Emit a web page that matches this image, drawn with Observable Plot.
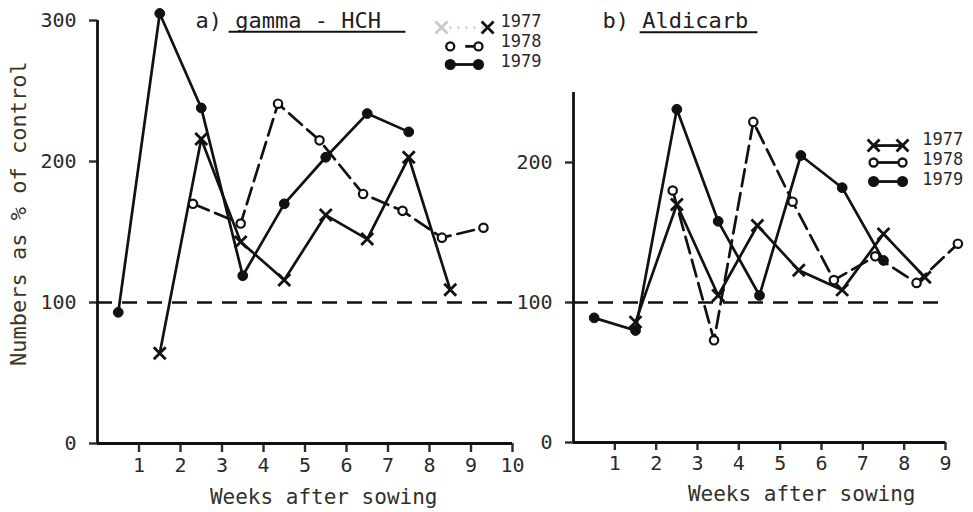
<!DOCTYPE html>
<html>
<head>
<meta charset="utf-8">
<script src="https://cdn.jsdelivr.net/npm/d3@7"></script>
<script src="https://cdn.jsdelivr.net/npm/@observablehq/plot@0.6"></script>
<style>
  body { margin: 0; background: #fff; }
  #fig { position: relative; width: 973px; height: 512px; overflow: hidden; background: #fff; }
  #fig svg { position: absolute; top: 0; }
</style>
</head>
<body>
<div id="fig"></div>
<script>
// a) gamma-HCH: numbers as % of control, by week after sowing
const hchWeeks1977 = [1.5, 2.5, 3.45, 4.5, 5.5, 6.5, 7.5, 8.5];
const hch1977      = [64, 216, 143, 116, 162, 145, 203, 109];
const hchWeeks1978 = [2.3, 3.45, 4.35, 5.35, 6.4, 7.35, 8.3, 9.3];
const hch1978      = [170, 156, 241, 215, 177, 165, 146, 153];
const hchWeeks1979 = [0.5, 1.5, 2.5, 3.5, 4.5, 5.5, 6.5, 7.5];
const hch1979      = [93, 305, 238, 119, 170, 203, 234, 221];

// b) Aldicarb
const aldWeeks1977 = [1.5, 2.5, 3.5, 4.45, 5.45, 6.5, 7.5, 8.5];
const ald1977      = [86, 170, 105, 155, 123, 109, 149, 118];
const aldWeeks1978 = [2.4, 3.4, 4.35, 5.3, 6.3, 7.3, 8.3, 9.3];
const ald1978      = [180, 73, 229, 172, 116, 133, 114, 142];
const aldWeeks1979 = [0.5, 1.5, 2.5, 3.5, 4.5, 5.5, 6.5, 7.5];
const ald1979      = [89, 80, 238, 158, 105, 205, 182, 130];

const years = ["1977", "1978", "1979"];
const controlLevel = 100;
const hchYTicks = [0, 100, 200, 300];
const aldYTicks = [0, 100, 200];
const hchXTicks = [1, 2, 3, 4, 5, 6, 7, 8, 9, 10];
const aldXTicks = [1, 2, 3, 4, 5, 6, 7, 8, 9];

const rows = (weeks, values) => weeks.map((week, i) => ({week, value: values[i]}));

const INK = "#111";
const FONT = "'DejaVu Sans Mono', monospace";

// line + marker styling per year
function seriesMarks(data, year) {
  const xy = {x: "week", y: "value"};
  const line = Plot.line(data, {...xy, stroke: INK, strokeWidth: 2.7,
    strokeDasharray: year === "1978" ? "17,7" : null});
  let dots;
  if (year === "1977") dots = Plot.dot(data, {...xy, symbol: "times", r: 5.5, stroke: INK, strokeWidth: 2.8});
  else if (year === "1978") dots = Plot.dot(data, {...xy, r: 4.2, fill: "white", stroke: INK, strokeWidth: 2.2});
  else dots = Plot.dot(data, {...xy, r: 4.9, fill: INK, stroke: INK, strokeWidth: 1});
  return [line, dots];
}

// legend row: two markers joined by a short segment, then the year
function legendMarks(year, xa, xb, ySym, xText, yText, opts = {}) {
  const seg = [{x1: xa, x2: xb, y: ySym}];
  const pts = [{x: xa, y: ySym, faint: opts.faintLeft}, {x: xb, y: ySym}];
  const marks = [
    Plot.link(seg, {x1: "x1", x2: "x2", y1: "y", y2: "y",
      stroke: opts.faintLeft ? "#d0d0d0" : INK, strokeWidth: 2.8,
      strokeDasharray: opts.dash || null})
  ];
  if (year === "1977") {
    marks.push(Plot.dot(pts, {x: "x", y: "y", symbol: "times", r: 5.5,
      stroke: d => d.faint ? "#c8c8c8" : INK, strokeWidth: 2.8}));
  } else if (year === "1978") {
    marks.push(Plot.dot(pts, {x: "x", y: "y", r: 4, fill: "white", stroke: INK, strokeWidth: 2.3}));
  } else {
    marks.push(Plot.dot(pts, {x: "x", y: "y", r: 4.8, fill: INK, stroke: INK}));
  }
  marks.push(Plot.text([year], {x: xText, y: yText, text: d => d, textAnchor: "start",
    fontSize: 17, fill: "#2a2a2a"}));
  return marks;
}

const baseStyle = {background: "transparent", fontFamily: FONT, fontSize: "20px", color: "#2b2b2b", overflow: "visible"};

// ---- panel a) gamma-HCH ----
const hchSeries = {
  "1977": rows(hchWeeks1977, hch1977),
  "1978": rows(hchWeeks1978, hch1978),
  "1979": rows(hchWeeks1979, hch1979)
};

const left = Plot.plot({
  width: 560, height: 512,
  marginLeft: 97, marginRight: 48, marginTop: 20, marginBottom: 69,
  x: {domain: [0, 10]},
  y: {domain: [0, 300]},
  style: baseStyle,
  marks: [
    Plot.axisY({ticks: hchYTicks, tickSize: 8, tickPadding: 13, strokeWidth: 2.4, label: null, fontSize: 20}),
    Plot.axisX({ticks: hchXTicks, tickSize: 9, tickPadding: 5, strokeWidth: 2.4, label: null, fontSize: 20}),
    Plot.ruleX([0], {y1: 0, y2: 300, stroke: INK, strokeWidth: 2.8}),
    Plot.ruleY([0], {x1: 0, x2: 10, stroke: INK, strokeWidth: 2.8}),
    Plot.ruleY([controlLevel], {x1: 0, x2: 10, stroke: INK, strokeWidth: 2.6, strokeDasharray: "15,10"}),
    ...years.flatMap(y => seriesMarks(hchSeries[y], y)),
    // panel title
    Plot.text(["a) gamma - HCH"], {x: 2.36, y: 300, text: d => d, textAnchor: "start", fontSize: 22, fill: "#1e1e1e"}),
    Plot.link([{a: 3.16, b: 7.42, y: 292}], {x1: "a", x2: "b", y1: "y", y2: "y", stroke: INK, strokeWidth: 2}),
    // legend
    ...legendMarks("1977", 8.29, 9.4, 295, 9.71, 299.3, {faintLeft: true, dash: "2,6"}),
    ...legendMarks("1978", 8.5, 9.18, 281.6, 9.71, 285.1, {dash: "2,13,12"}),
    ...legendMarks("1979", 8.5, 9.18, 268.8, 9.71, 270.9),
    // axis titles
    Plot.text(["Weeks after sowing"], {x: 5.45, y: -38, text: d => d, fontSize: 21, fill: "#33302a"}),
    Plot.text(["Numbers as % of control"], {x: -1.9, y: 163, text: d => d, rotate: -90, fontSize: 22, fill: "#3a3726"})
  ]
});

// ---- panel b) Aldicarb ----
const aldSeries = {
  "1977": rows(aldWeeks1977, ald1977),
  "1978": rows(aldWeeks1978, ald1978),
  "1979": rows(aldWeeks1979, ald1979)
};

const right = Plot.plot({
  width: 453, height: 512,
  marginLeft: 53, marginRight: 28, marginTop: 92, marginBottom: 70,
  x: {domain: [0, 9]},
  y: {domain: [0, 250]},
  style: baseStyle,
  marks: [
    Plot.axisY({ticks: aldYTicks, tickSize: 8, tickPadding: 13, strokeWidth: 2.4, label: null, fontSize: 20}),
    Plot.axisX({ticks: aldXTicks, tickSize: 8, tickPadding: 5, strokeWidth: 2.4, label: null, fontSize: 20}),
    Plot.ruleX([0], {y1: 0, y2: 250, stroke: INK, strokeWidth: 2.8}),
    Plot.ruleY([0], {x1: 0, x2: 9, stroke: INK, strokeWidth: 2.8}),
    Plot.ruleY([controlLevel], {x1: 0, x2: 9, stroke: INK, strokeWidth: 2.6, strokeDasharray: "15,10"}),
    ...years.flatMap(y => seriesMarks(aldSeries[y], y)),
    // panel title
    Plot.text(["b) Aldicarb"], {x: 0.7, y: 301, text: d => d, textAnchor: "start", fontSize: 22, fill: "#1e1e1e"}),
    Plot.link([{a: 1.6, b: 4.45, y: 293}], {x1: "a", x2: "b", y1: "y", y2: "y", stroke: INK, strokeWidth: 2}),
    // legend
    ...legendMarks("1977", 7.26, 7.96, 212.1, 8.44, 216.4),
    ...legendMarks("1978", 7.26, 7.96, 200, 8.44, 202.1),
    ...legendMarks("1979", 7.26, 7.96, 186.4, 8.44, 187.9),
    // axis title
    Plot.text(["Weeks after sowing"], {x: 5.52, y: -37, text: d => d, fontSize: 21, fill: "#33302a"})
  ]
});

const fig = document.getElementById("fig");
left.style.left = "0px";
right.style.left = "520px";
fig.appendChild(left);
fig.appendChild(right);
</script>
</body>
</html>
